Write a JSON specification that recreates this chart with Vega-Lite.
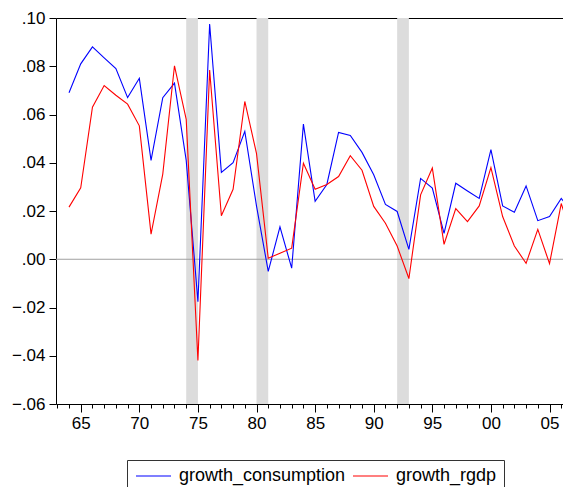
{
  "$schema": "https://vega.github.io/schema/vega-lite/v6.json",
  "autosize": {"type": "none"},
  "width": 507,
  "height": 386,
  "padding": {"left": 56, "top": 18, "right": 0, "bottom": 83},
  "background": "white",
  "config": {
    "view": {"stroke": null},
    "font": "Liberation Sans",
    "axis": {"labelFont": "Liberation Sans", "labelColor": "#000", "domainColor": "#000", "tickColor": "#000", "grid": false, "title": null}
  },
  "datasets": {
    "recessions": [
      {"start": 1974, "end": 1975},
      {"start": 1980, "end": 1981},
      {"start": 1992, "end": 1993}
    ],
    "growth": [
      {"year": 1964, "series": "growth_consumption", "value": 0.069},
      {"year": 1965, "series": "growth_consumption", "value": 0.081},
      {"year": 1966, "series": "growth_consumption", "value": 0.088},
      {"year": 1967, "series": "growth_consumption", "value": 0.0835},
      {"year": 1968, "series": "growth_consumption", "value": 0.079},
      {"year": 1969, "series": "growth_consumption", "value": 0.067},
      {"year": 1970, "series": "growth_consumption", "value": 0.075},
      {"year": 1971, "series": "growth_consumption", "value": 0.041},
      {"year": 1972, "series": "growth_consumption", "value": 0.067},
      {"year": 1973, "series": "growth_consumption", "value": 0.073},
      {"year": 1974, "series": "growth_consumption", "value": 0.041},
      {"year": 1975, "series": "growth_consumption", "value": -0.0176},
      {"year": 1976, "series": "growth_consumption", "value": 0.0975},
      {"year": 1977, "series": "growth_consumption", "value": 0.036},
      {"year": 1978, "series": "growth_consumption", "value": 0.040},
      {"year": 1979, "series": "growth_consumption", "value": 0.053},
      {"year": 1980, "series": "growth_consumption", "value": 0.022},
      {"year": 1981, "series": "growth_consumption", "value": -0.005},
      {"year": 1982, "series": "growth_consumption", "value": 0.0134},
      {"year": 1983, "series": "growth_consumption", "value": -0.0037},
      {"year": 1984, "series": "growth_consumption", "value": 0.056},
      {"year": 1985, "series": "growth_consumption", "value": 0.024},
      {"year": 1986, "series": "growth_consumption", "value": 0.031},
      {"year": 1987, "series": "growth_consumption", "value": 0.0526},
      {"year": 1988, "series": "growth_consumption", "value": 0.0513},
      {"year": 1989, "series": "growth_consumption", "value": 0.0443},
      {"year": 1990, "series": "growth_consumption", "value": 0.035},
      {"year": 1991, "series": "growth_consumption", "value": 0.0227},
      {"year": 1992, "series": "growth_consumption", "value": 0.0198},
      {"year": 1993, "series": "growth_consumption", "value": 0.0041},
      {"year": 1994, "series": "growth_consumption", "value": 0.0335},
      {"year": 1995, "series": "growth_consumption", "value": 0.0295},
      {"year": 1996, "series": "growth_consumption", "value": 0.0107},
      {"year": 1997, "series": "growth_consumption", "value": 0.0315},
      {"year": 1998, "series": "growth_consumption", "value": 0.0283},
      {"year": 1999, "series": "growth_consumption", "value": 0.0252},
      {"year": 2000, "series": "growth_consumption", "value": 0.0454},
      {"year": 2001, "series": "growth_consumption", "value": 0.0221},
      {"year": 2002, "series": "growth_consumption", "value": 0.0195},
      {"year": 2003, "series": "growth_consumption", "value": 0.0304},
      {"year": 2004, "series": "growth_consumption", "value": 0.016},
      {"year": 2005, "series": "growth_consumption", "value": 0.0177},
      {"year": 2006, "series": "growth_consumption", "value": 0.0252},
      {"year": 2007, "series": "growth_consumption", "value": 0.019},
      {"year": 1964, "series": "growth_rgdp", "value": 0.0216},
      {"year": 1965, "series": "growth_rgdp", "value": 0.0296},
      {"year": 1966, "series": "growth_rgdp", "value": 0.063},
      {"year": 1967, "series": "growth_rgdp", "value": 0.072},
      {"year": 1968, "series": "growth_rgdp", "value": 0.068},
      {"year": 1969, "series": "growth_rgdp", "value": 0.0643},
      {"year": 1970, "series": "growth_rgdp", "value": 0.0553},
      {"year": 1971, "series": "growth_rgdp", "value": 0.0104},
      {"year": 1972, "series": "growth_rgdp", "value": 0.0353},
      {"year": 1973, "series": "growth_rgdp", "value": 0.0802},
      {"year": 1974, "series": "growth_rgdp", "value": 0.058},
      {"year": 1975, "series": "growth_rgdp", "value": -0.042},
      {"year": 1976, "series": "growth_rgdp", "value": 0.0784},
      {"year": 1977, "series": "growth_rgdp", "value": 0.018},
      {"year": 1978, "series": "growth_rgdp", "value": 0.029},
      {"year": 1979, "series": "growth_rgdp", "value": 0.0654},
      {"year": 1980, "series": "growth_rgdp", "value": 0.0438},
      {"year": 1981, "series": "growth_rgdp", "value": 0.0004},
      {"year": 1982, "series": "growth_rgdp", "value": 0.0025},
      {"year": 1983, "series": "growth_rgdp", "value": 0.0046},
      {"year": 1984, "series": "growth_rgdp", "value": 0.0398},
      {"year": 1985, "series": "growth_rgdp", "value": 0.029},
      {"year": 1986, "series": "growth_rgdp", "value": 0.031},
      {"year": 1987, "series": "growth_rgdp", "value": 0.0343},
      {"year": 1988, "series": "growth_rgdp", "value": 0.0429},
      {"year": 1989, "series": "growth_rgdp", "value": 0.0369},
      {"year": 1990, "series": "growth_rgdp", "value": 0.0219},
      {"year": 1991, "series": "growth_rgdp", "value": 0.0149},
      {"year": 1992, "series": "growth_rgdp", "value": 0.0055},
      {"year": 1993, "series": "growth_rgdp", "value": -0.008},
      {"year": 1994, "series": "growth_rgdp", "value": 0.0267},
      {"year": 1995, "series": "growth_rgdp", "value": 0.0378},
      {"year": 1996, "series": "growth_rgdp", "value": 0.0062},
      {"year": 1997, "series": "growth_rgdp", "value": 0.021},
      {"year": 1998, "series": "growth_rgdp", "value": 0.0156},
      {"year": 1999, "series": "growth_rgdp", "value": 0.0221},
      {"year": 2000, "series": "growth_rgdp", "value": 0.038},
      {"year": 2001, "series": "growth_rgdp", "value": 0.0177},
      {"year": 2002, "series": "growth_rgdp", "value": 0.0055},
      {"year": 2003, "series": "growth_rgdp", "value": -0.0017},
      {"year": 2004, "series": "growth_rgdp", "value": 0.0124},
      {"year": 2005, "series": "growth_rgdp", "value": -0.0018},
      {"year": 2006, "series": "growth_rgdp", "value": 0.0231},
      {"year": 2007, "series": "growth_rgdp", "value": 0.008}
    ]
  },
  "layer": [
    {
      "data": {"name": "recessions"},
      "mark": {"type": "rect", "color": "#dcdcdc"},
      "encoding": {
        "x": {
          "field": "start", "type": "quantitative",
          "scale": {"domain": [1962.89, 2006.15], "nice": false, "zero": false},
          "axis": {"orient": "top", "ticks": false, "labels": false, "domainWidth": 1}
        },
        "x2": {"field": "end"}
      }
    },
    {
      "data": {"values": [{"level": 0}]},
      "mark": {"type": "rule", "color": "#a0a0a0", "strokeWidth": 1},
      "encoding": {
        "y": {"field": "level", "type": "quantitative"}
      }
    },
    {
      "data": {"name": "growth"},
      "mark": {"type": "line", "strokeWidth": 1.1, "clip": true},
      "encoding": {
        "x": {
          "field": "year", "type": "quantitative",
          "axis": {
            "orient": "bottom",
            "values": [1963, 1964, 1965, 1966, 1967, 1968, 1969, 1970, 1971, 1972, 1973, 1974, 1975, 1976, 1977, 1978, 1979, 1980, 1981, 1982, 1983, 1984, 1985, 1986, 1987, 1988, 1989, 1990, 1991, 1992, 1993, 1994, 1995, 1996, 1997, 1998, 1999, 2000, 2001, 2002, 2003, 2004, 2005, 2006],
            "labelExpr": "datum.value % 5 === 0 ? substring(toString(datum.value), 2, 4) : ''",
            "tickSize": {"condition": {"test": "datum.value % 5 === 0", "value": 8}, "value": 4},
            "labelFontSize": 17,
            "labelPadding": 3,
            "labelFlush": false,
            "labelOverlap": false,
            "domainWidth": 1
          }
        },
        "y": {
          "field": "value", "type": "quantitative",
          "scale": {"domain": [-0.06, 0.10], "nice": false, "zero": false},
          "axis": {
            "values": [-0.06, -0.04, -0.02, 0, 0.02, 0.04, 0.06, 0.08, 0.10],
            "format": ".2f",
            "labelExpr": "replace(datum.label, '0.', '.')",
            "tickSize": 7,
            "labelFontSize": 17,
            "labelPadding": 4,
            "labelFlush": false,
            "domainWidth": 1
          }
        },
        "color": {
          "field": "series", "type": "nominal",
          "scale": {"domain": ["growth_consumption", "growth_rgdp"], "range": ["#0000ff", "#ff0000"]},
          "legend": {
            "title": null,
            "orient": "none",
            "legendX": 71,
            "legendY": 442,
            "direction": "horizontal",
            "gridAlign": "none",
            "symbolType": "M-1,0H4",
            "symbolSize": 196,
            "symbolStrokeWidth": 1.2,
            "labelFontSize": 18,
            "labelFont": "Liberation Sans",
            "labelColor": "#000",
            "labelOffset": 27,
            "columnPadding": 4,
            "padding": 7,
            "strokeColor": "#333",
            "fillColor": "white",
            "labelLimit": 400
          }
        }
      }
    }
  ],
  "resolve": {"axis": {"x": "independent"}}
}
